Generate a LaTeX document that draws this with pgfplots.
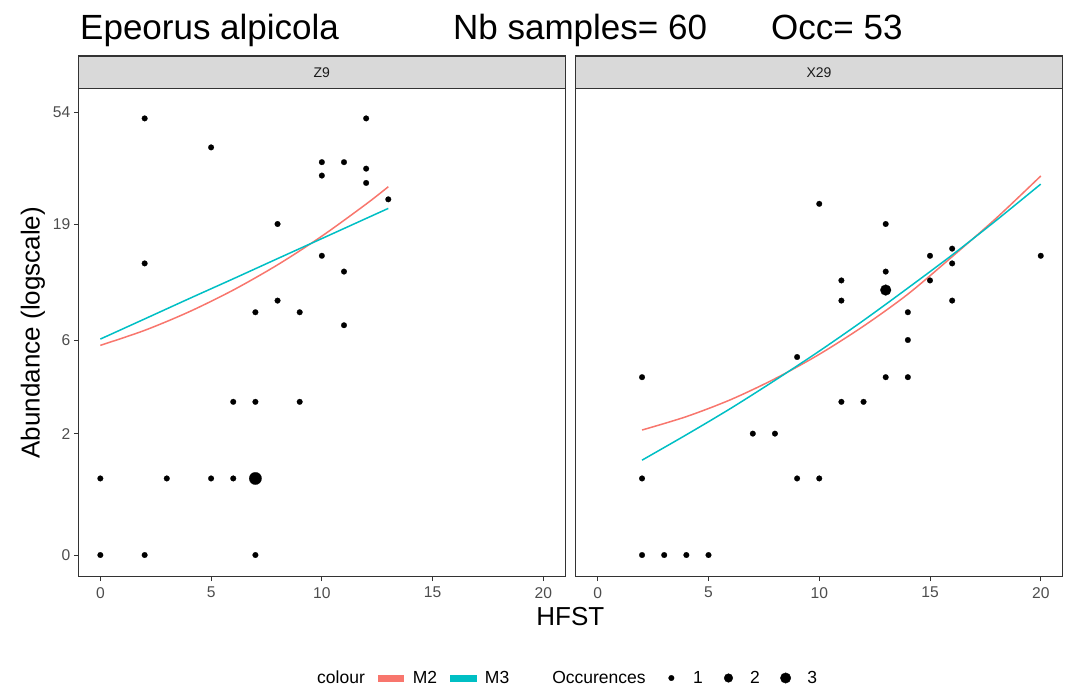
\documentclass[border=0pt]{standalone}
\usepackage{fontspec}
\setmainfont{Liberation Sans}
\usepackage{pgfplots}
\usepackage{pgfplotstable}
\pgfplotsset{compat=1.18}
\definecolor{mtwo}{HTML}{F8766D}
\definecolor{mthree}{HTML}{00BFC4}
\definecolor{gtwenty}{HTML}{333333}
\definecolor{gthirty}{HTML}{4D4D4D}
\definecolor{gstrip}{HTML}{D9D9D9}
\definecolor{gten}{HTML}{1A1A1A}

% Z9 panel: single samples (x = HFST, a = abundance)
\pgfplotstableread{
x a
2 51
12 51
5 39
10 34
11 34
12 32
10 30
12 28
13 24
8 19
2 13
10 14
11 12
8 9
7 8
9 8
11 7
6 3
7 3
9 3
0 1
3 1
5 1
6 1
0 0
2 0
7 0
}\zsingle
\pgfplotstableread{
x a
7 1
}\ztriple
% X29 panel
\pgfplotstableread{
x a
10 23
13 19
16 15
15 14
20 14
16 13
13 12
11 11
15 11
11 9
16 9
14 8
14 6
9 5
2 4
13 4
14 4
11 3
12 3
7 2
8 2
2 1
9 1
10 1
2 0
3 0
4 0
5 0
}\xsingle
\pgfplotstableread{
x a
13 10
}\xdouble
% fitted curves (predicted abundance)
\pgfplotstableread{
x p
0 5.67
2 6.64
4 8.03
6 10.00
8 12.82
10 16.92
12 22.95
13 27.02
}\zMtwo
\pgfplotstableread{
x p
0 6.06
2 7.47
4 9.17
6 11.18
8 13.62
10 16.53
12 20.03
13 22.03
}\zMthree
\pgfplotstableread{
x p
2 2.10
4 2.50
6 3.08
8 3.93
10 5.15
12 6.94
14 9.60
16 13.88
18 20.12
20 29.88
}\xMtwo
\pgfplotstableread{
x p
2 1.36
4 1.97
6 2.77
8 3.86
10 5.33
12 7.36
14 10.20
16 14.11
18 19.70
20 27.70
}\xMthree

\pgfplotsset{
  panel/.style={
    scale only axis, width=487.3bp, height=488.2bp,
    xmin=-1, xmax=21, ymin=0.822, ymax=68.17,
    xtick={0,5,10,15,20},
    ytick={1,3,7,20,55}, yticklabels={0,2,6,19,54},
    tick align=outside, major tick length=4.4bp,
    xtick pos=left, ytick pos=left,
    tick style={gtwenty, line width=1bp},
    axis line style={gtwenty, line width=1.1bp},
    minor tick num=0,
    /pgf/number format/assume math mode=true,
    ticklabel style={font=\fontsize{15.6bp}{18bp}\selectfont, text=gthirty},
    xticklabel style={yshift=-2.5bp},
    clip=false,
  },
  pts/.style={only marks, mark=*, black, mark options={line width=0.2bp}},
  fit/.style={no marks, line width=1.5bp, smooth},
}

\begin{document}
\begin{tikzpicture}
\path[use as bounding box] (0,0) rectangle (1069bp,691bp);

\begin{axis}[ymode=log, panel, at={(78.2bp,114.3bp)}, anchor=south west,
  legend columns=7,
  legend cell align=left,
  legend style={at={(0.4716,-0.2075)}, anchor=west, draw=none, fill=none,
    inner sep=0pt, font=\fontsize{17.5bp}{20bp}\selectfont,
    /tikz/every odd column/.append style={column sep=9bp},
    /tikz/every even column/.append style={column sep=13bp},
    nodes={inner sep=0pt}},
]
\addplot[fit, mtwo, forget plot] table[x=x, y expr=\thisrow{p}+1] {\zMtwo};
\addplot[fit, mthree, forget plot] table[x=x, y expr=\thisrow{p}+1] {\zMthree};
\addplot[pts, mark size=2.85bp, forget plot] table[x=x, y expr=\thisrow{a}+1] {\zsingle};
\addplot[pts, mark size=6.2bp, forget plot] table[x=x, y expr=\thisrow{a}+1] {\ztriple};

\addlegendimage{empty legend}\addlegendentry{colour}
\addlegendimage{legend image code/.code={\fill[mtwo] (0bp,-3bp) rectangle (25.5bp,3bp);}}\addlegendentry{M2}
\addlegendimage{legend image code/.code={\fill[mthree] (0bp,-3bp) rectangle (25.5bp,3bp);}}\addlegendentry{M3}
\addlegendimage{empty legend}\addlegendentry{\mbox{}\hspace{21bp}Occurences}
\addlegendimage{legend image code/.code={\path (0bp,0bp) (25bp,0bp);\draw[black, mark=*, mark size=2.75bp] plot coordinates {(12.5bp,0bp)};}}\addlegendentry{1}
\addlegendimage{legend image code/.code={\path (0bp,0bp) (25bp,0bp);\draw[black, mark=*, mark size=4.3bp] plot coordinates {(12.5bp,0bp)};}}\addlegendentry{2}
\addlegendimage{legend image code/.code={\path (0bp,0bp) (25bp,0bp);\draw[black, mark=*, mark size=5.2bp] plot coordinates {(12.5bp,0bp)};}}\addlegendentry{3}
\end{axis}

\begin{axis}[ymode=log, panel, at={(575.6bp,114.3bp)}, anchor=south west, ymajorticks=false]
\addplot[fit, mtwo] table[x=x, y expr=\thisrow{p}+1] {\xMtwo};
\addplot[fit, mthree] table[x=x, y expr=\thisrow{p}+1] {\xMthree};
\addplot[pts, mark size=2.85bp] table[x=x, y expr=\thisrow{a}+1] {\xsingle};
\addplot[pts, mark size=5.4bp] table[x=x, y expr=\thisrow{a}+1] {\xdouble};
\end{axis}

% facet strips
\draw[fill=gstrip, draw=gtwenty, line width=1.1bp] (78.2bp,602.5bp) rectangle (565.5bp,635bp);
\draw[fill=gstrip, draw=gtwenty, line width=1.1bp] (575.6bp,602.5bp) rectangle (1062.5bp,635bp);
\node[text=gten, font=\fontsize{14bp}{16bp}\selectfont] at (321.85bp,618.75bp) {Z9};
\node[text=gten, font=\fontsize{14bp}{16bp}\selectfont] at (819.05bp,618.75bp) {X29};

% titles
\node[anchor=base west, inner sep=0pt, font=\fontsize{35bp}{40bp}\selectfont] at (80bp,651bp) {Epeorus alpicola};
\node[anchor=base west, inner sep=0pt, font=\fontsize{35bp}{40bp}\selectfont] at (453bp,651bp) {Nb samples= 60};
\node[anchor=base west, inner sep=0pt, font=\fontsize{35bp}{40bp}\selectfont] at (771bp,651bp) {Occ= 53};
\node[rotate=90, font=\fontsize{26bp}{30bp}\selectfont] at (33bp,358.4bp) {Abundance (logscale)};
\node[font=\fontsize{26bp}{30bp}\selectfont] at (570.4bp,74.3bp) {HFST};
\end{tikzpicture}
\end{document}
